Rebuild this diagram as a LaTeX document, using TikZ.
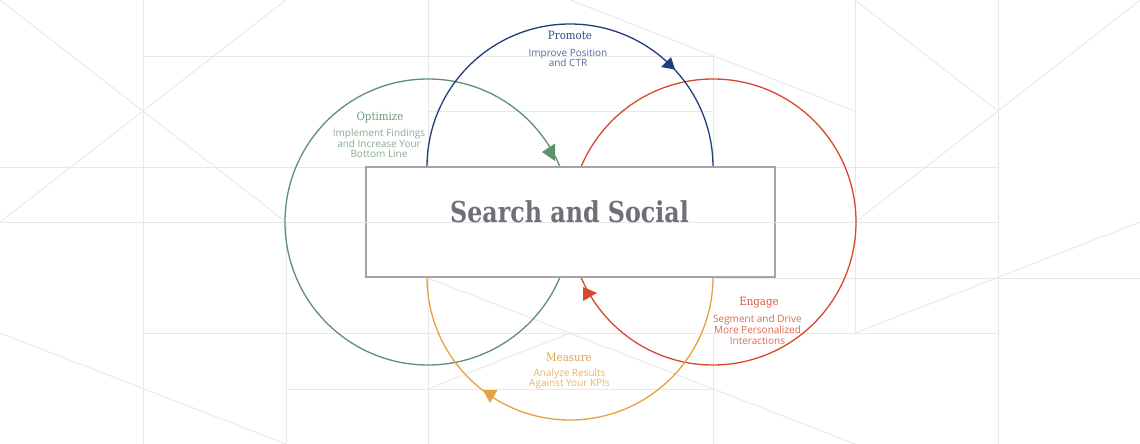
\documentclass[tikz,border=0pt]{standalone}
\usepackage{fontspec}
\setmainfont{DejaVu Serif}
\setsansfont{Open Sans}
\newfontfamily\hubfont[FakeStretch=0.825]{DejaVu Serif}
\newfontfamily\headfont[FakeStretch=0.9]{DejaVu Serif}

\definecolor{gridgray}{HTML}{E8E8E8}
\definecolor{hubgray}{HTML}{A4A4AA}
\definecolor{hubtext}{HTML}{6F6F78}
\definecolor{optgreen}{HTML}{5E9170}
\definecolor{optgreentext}{HTML}{6B9B7A}
\definecolor{optgreensub}{HTML}{86AE92}
\definecolor{promblue}{HTML}{1E3E7E}
\definecolor{promblueText}{HTML}{2E4A86}
\definecolor{promblueSub}{HTML}{4D6AA0}
\definecolor{engred}{HTML}{D8482A}
\definecolor{engredtext}{HTML}{D65A3E}
\definecolor{engredsub}{HTML}{DC6A50}
\definecolor{measamber}{HTML}{E6A23C}
\definecolor{measambertext}{HTML}{E3A445}
\definecolor{measambersub}{HTML}{EBB466}

\begin{document}
\begin{tikzpicture}[x=1pt,y=-1pt,
  gridline/.style={draw=gridgray,line width=0.9pt},
  ring/.style={line width=1.3pt},
  head/.style={font=\headfont\fontsize{11.4}{13}\selectfont,inner sep=0pt,anchor=base},
  sub/.style={font=\sffamily\fontsize{10}{10.6}\selectfont,align=center,inner sep=0pt},
]
\useasboundingbox (0,0) rectangle (1140,444);
\fill[white] (0,0) rectangle (1140,444);

% background grid: verticals
\draw[gridline] (143,0) -- (143,444);
\draw[gridline] (286,222) -- (286,444);
\draw[gridline] (428,0) -- (428,444);
\draw[gridline] (713,56) -- (713,167);
\draw[gridline] (713,333) -- (713,444);
\draw[gridline] (855,0) -- (855,333);
\draw[gridline] (998,0) -- (998,444);
% horizontals
\draw[gridline] (143,56) -- (713,56);
\draw[gridline] (428,111) -- (713,111);
\draw[gridline] (0,167) -- (998,167);
\draw[gridline] (0,222) -- (998,222);
\draw[gridline] (713,278) -- (1140,278);
\draw[gridline] (143,333) -- (998,333);
\draw[gridline] (286,389) -- (713,389);
% diagonals
\draw[gridline] (0,0) -- (286,222);
\draw[gridline] (0,222) -- (286,0);
\draw[gridline] (570,0) -- (855,111);
\draw[gridline] (855,0) -- (998,111) -- (1140,0);
\draw[gridline] (998,111) -- (855,222);
\draw[gridline] (0,333) -- (286,444);
\draw[gridline] (428,278) -- (855,444);
\draw[gridline] (428,389) -- (570,333);
\draw[gridline] (855,333) -- (1140,222);

% the four cycle rings
\draw[ring,optgreen] (428,222) circle[radius=143];
\draw[ring,engred] (713,222) circle[radius=143];
\draw[ring,promblue] (427,167) arc[start angle=180,end angle=360,radius=143];
\draw[ring,measamber] (427,277) arc[start angle=180,end angle=0,radius=143];

% direction marks on the rings
\fill[optgreen] (542,152) -- (555,143.5) -- (555,161) -- cycle;
\fill[promblue] (661,67) -- (671,57) -- (675,69.5) -- cycle;
\fill[engred] (583,287) -- (583,301) -- (597,293) -- cycle;
\fill[measamber] (483,390) -- (497.5,390) -- (490,403) -- cycle;

% central box
\node[draw=hubgray,line width=1.8pt,fill=white,minimum width=409pt,minimum height=110pt,inner sep=0pt] (hub) at (570.5,222) {};
\draw[gridline] (hub.west) -- (hub.east);
\node[font=\hubfont\bfseries\fontsize{28.8}{32}\selectfont,text=hubtext,inner sep=0pt,anchor=base] (hubtitle) at (569.5,222.5) {Search and Social};

% labels
\node[head,text=optgreentext] (optimize) at (380,120) {Optimize};
\node[sub,text=optgreensub] (optimizesub) at (379,143.5) {Implement Findings\\and Increase Your\\Bottom Line};

\node[head,text=promblueText] (promote) at (570,39.5) {Promote};
\node[sub,text=promblueSub] (promotesub) at (568,57.8) {Improve Position\\and CTR};

\node[head,text=engredtext] (engage) at (759,305.5) {Engage};
\node[sub,text=engredsub] (engagesub) at (757.5,329.8) {Segment and Drive\\More Personalized\\Interactions};

\node[head,text=measambertext] (measure) at (569,361.5) {Measure};
\node[sub,text=measambersub] (measuresub) at (569.5,379) {Analyze Results\\Against Your KPIs};
\end{tikzpicture}
\end{document}
